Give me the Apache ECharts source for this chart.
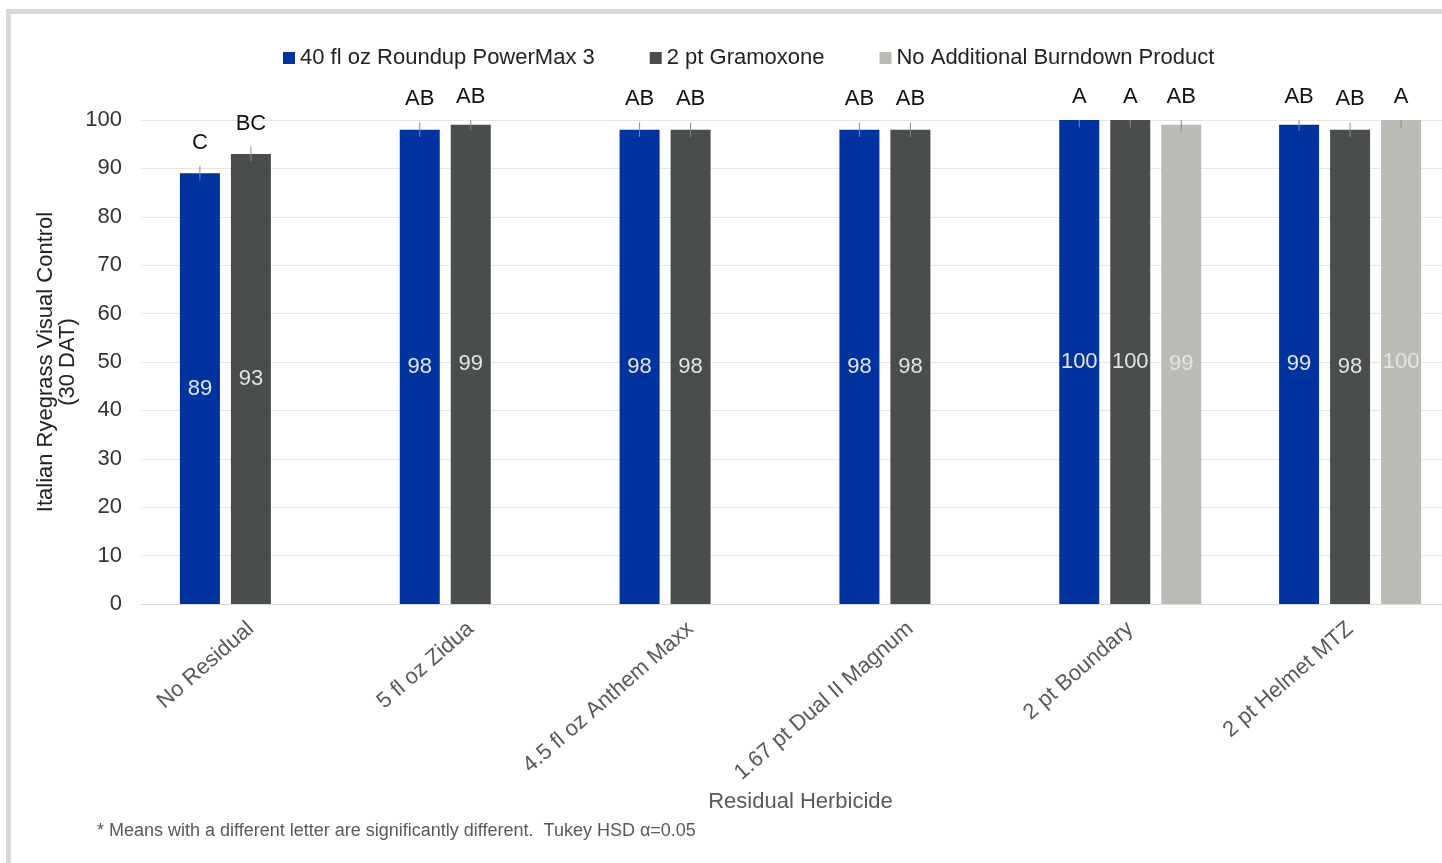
<!DOCTYPE html>
<html>
<head>
<meta charset="utf-8">
<script src="https://cdn.jsdelivr.net/npm/echarts@6/dist/echarts.min.js"></script>
<style>
html,body{margin:0;padding:0;background:#fff;overflow:hidden;}
#chart{width:1460px;height:863px;}
</style>
</head>
<body>
<div id="chart"></div>
<script>
// ---- data ----
const categories = ['No Residual', '5 fl oz Zidua', '4.5 fl oz Anthem Maxx', '1.67 pt Dual II Magnum', '2 pt Boundary', '2 pt Helmet MTZ'];
const seriesNames = ['40 fl oz Roundup PowerMax 3', '2 pt Gramoxone', 'No Additional Burndown Product'];
const roundup = [89, 98, 98, 98, 100, 99];
const gramoxone = [93, 99, 98, 98, 100, 98];
const noBurndown = [null, null, null, null, 99, 100];
const roundupErr = [1.5, 1.5, 1.5, 1.5, 1.5, 1.3];
const gramoxoneErr = [1.5, 1.2, 1.5, 1.5, 1.5, 1.5];
const noBurndownErr = [null, null, null, null, 1.5, 1.6];
const roundupLetters = ['C', 'AB', 'AB', 'AB', 'A', 'AB'];
const gramoxoneLetters = ['BC', 'AB', 'AB', 'AB', 'A', 'AB'];
const noBurndownLetters = [null, null, null, null, 'AB', 'A'];
const yTicks = [0, 10, 20, 30, 40, 50, 60, 70, 80, 90, 100];

// ---- style ----
const colors = ['#0033a0', '#4a4d4d', '#bbbcb6'];
const FONT = '"Liberation Sans", Arial, sans-serif';
const BAR_W = 40, BAR_GAP = 11;
const yMin = yTicks[0], yMax = yTicks[yTicks.length - 1], yStep = yTicks[1] - yTicks[0];

const chart = echarts.init(document.getElementById('chart'), null, {renderer: 'canvas'});

function barSeries(idx, vals) {
  return {
    name: seriesNames[idx],
    type: 'bar',
    data: vals,
    barWidth: BAR_W,
    barGap: (BAR_GAP / BAR_W * 100) + '%',
    itemStyle: {color: colors[idx]},
    label: {
      show: true, position: 'inside', color: '#e4e4e4',
      fontFamily: FONT, fontSize: 22
    },
    z: 2
  };
}

function errSeries(idx, vals, errs, letters) {
  const offset = (idx - 1) * (BAR_W + BAR_GAP);
  const data = [];
  vals.forEach((v, i) => { if (v != null) data.push([i, v, errs[i]]); });
  return {
    name: 'err' + idx,
    type: 'custom',
    data: data,
    clip: false,
    silent: true,
    z: 5,
    renderItem: function (params, api) {
      const i = api.value(0), v = api.value(1), e = api.value(2);
      const x = api.coord([i, v])[0] + offset;
      const top = api.coord([i, Math.min(v + e, yMax)])[1];
      const bot = api.coord([i, v - e])[1];
      return {
        type: 'group',
        children: [
          {type: 'line', shape: {x1: x, y1: top, x2: x, y2: bot},
           style: {stroke: '#8a8a8a', lineWidth: 1}},
          {type: 'text', style: {text: letters[i], x: x, y: top - 23,
            textAlign: 'center', textVerticalAlign: 'middle',
            font: '22px ' + FONT, fill: '#111'}}
        ]
      };
    }
  };
}

const option = {
  backgroundColor: '#ffffff',
  animation: false,
  color: colors,
  textStyle: {fontFamily: FONT},
  graphic: [
    {type: 'rect', shape: {x: 8.5, y: 11.5, width: 1520, height: 900},
     style: {fill: 'none', stroke: '#d9d9d9', lineWidth: 5}, silent: true, z: 0},
    {type: 'text', left: 97, top: 822,
     style: {text: '* Means with a different letter are significantly different.  Tukey HSD α=0.05',
             font: '18px ' + FONT, fill: '#595959'}}
  ],
  legend: {
    data: seriesNames,
    left: 278, top: 42,
    icon: 'rect', itemWidth: 12, itemHeight: 12, itemGap: 55,
    textStyle: {fontFamily: FONT, fontSize: 22, color: '#222'}
  },
  grid: {left: 141, top: 120, right: 0, bottom: 259, containLabel: false},
  xAxis: {
    type: 'category',
    data: categories,
    name: 'Residual Herbicide',
    nameLocation: 'middle',
    nameGap: 187,
    nameMoveOverlap: false,
    nameTextStyle: {fontFamily: FONT, fontSize: 22, color: '#595959'},
    axisLine: {show: true, lineStyle: {color: '#d9d9d9'}},
    axisTick: {show: false},
    axisLabel: {rotate: 41, margin: 22, fontFamily: FONT, fontSize: 22, color: '#595959', interval: 0}
  },
  yAxis: {
    type: 'value',
    min: yMin, max: yMax, interval: yStep,
    name: 'Italian Ryegrass Visual Control\n(30 DAT)',
    nameLocation: 'middle',
    nameRotate: 90,
    nameGap: 62,
    nameMoveOverlap: false,
    nameTextStyle: {fontFamily: FONT, fontSize: 22, color: '#222', lineHeight: 22},
    axisLine: {show: false},
    axisTick: {show: false},
    axisLabel: {margin: 19, fontFamily: FONT, fontSize: 22, color: '#333'},
    splitLine: {lineStyle: {color: '#e6e6e6', width: 1}}
  },
  series: [
    barSeries(0, roundup),
    barSeries(1, gramoxone),
    barSeries(2, noBurndown),
    errSeries(0, roundup, roundupErr, roundupLetters),
    errSeries(1, gramoxone, gramoxoneErr, gramoxoneLetters),
    errSeries(2, noBurndown, noBurndownErr, noBurndownLetters)
  ]
};
chart.setOption(option);
</script>
</body>
</html>
